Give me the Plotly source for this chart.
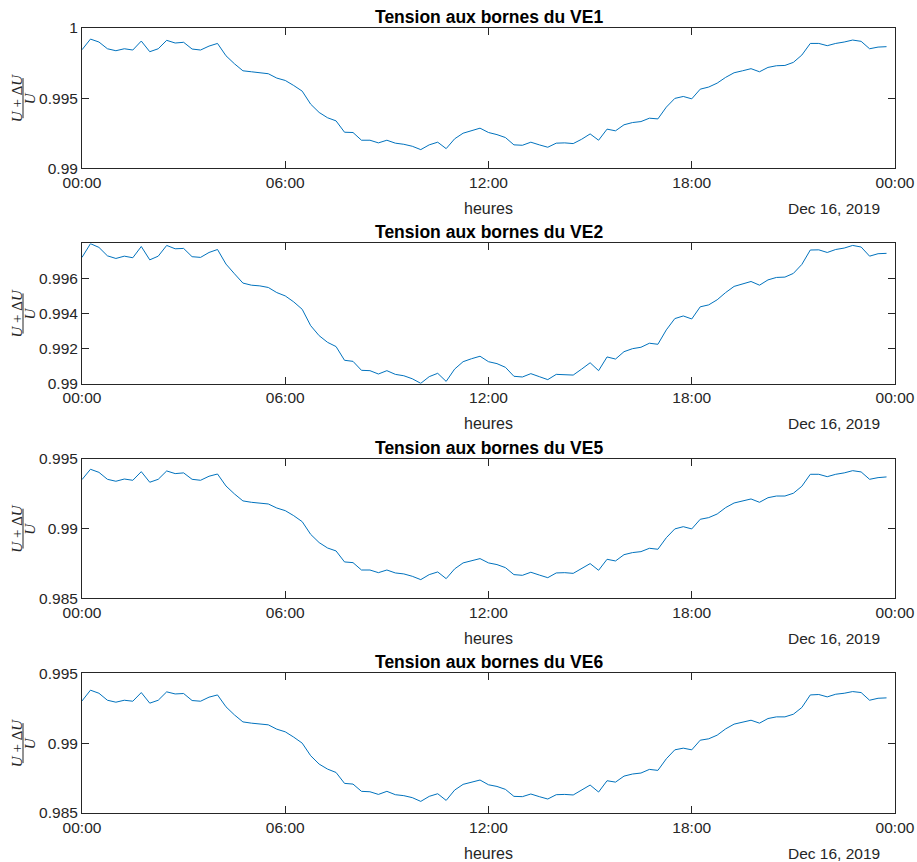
import pandas as pd
import plotly.graph_objects as go
from plotly.subplots import make_subplots

# 15-minute samples over Dec 16, 2019
heures = pd.date_range("2019-12-16 00:00", periods=96, freq="15min")

ve1 = [
    0.99845, 0.99921, 0.99900, 0.99852, 0.99838, 0.99852, 0.99843, 0.99907,
    0.99831, 0.99852, 0.99912, 0.99893, 0.99898, 0.99850, 0.99843, 0.99871,
    0.99890, 0.99802, 0.99745, 0.99695, 0.99688, 0.99683, 0.99674, 0.99643,
    0.99626, 0.99590, 0.99550, 0.99457, 0.99398, 0.99360, 0.99338, 0.99257,
    0.99255, 0.99200, 0.99200, 0.99181, 0.99200, 0.99179, 0.99171, 0.99157,
    0.99133, 0.99167, 0.99186, 0.99140, 0.99210, 0.99250, 0.99269, 0.99286,
    0.99255, 0.99240, 0.99219, 0.99167, 0.99164, 0.99186, 0.99167, 0.99150,
    0.99179, 0.99181, 0.99176, 0.99207, 0.99245, 0.99200, 0.99279, 0.99267,
    0.99310, 0.99326, 0.99333, 0.99357, 0.99352, 0.99436, 0.99498, 0.99512,
    0.99495, 0.99564, 0.99579, 0.99607, 0.99648, 0.99681, 0.99695, 0.99710,
    0.99688, 0.99719, 0.99731, 0.99733, 0.99755, 0.99807, 0.99890, 0.99890,
    0.99874, 0.99890, 0.99900, 0.99914, 0.99905, 0.99852, 0.99864, 0.99867,
]

ve2 = [
    0.99718, 0.99796, 0.99775, 0.99727, 0.99712, 0.99725, 0.99716, 0.99780,
    0.99704, 0.99725, 0.99786, 0.99767, 0.99769, 0.99722, 0.99718, 0.99746,
    0.99763, 0.99680, 0.99625, 0.99572, 0.99560, 0.99556, 0.99547, 0.99518,
    0.99499, 0.99465, 0.99423, 0.99330, 0.99273, 0.99235, 0.99211, 0.99133,
    0.99127, 0.99076, 0.99074, 0.99055, 0.99074, 0.99053, 0.99045, 0.99028,
    0.99002, 0.99040, 0.99059, 0.99013, 0.99083, 0.99125, 0.99142, 0.99156,
    0.99125, 0.99114, 0.99093, 0.99042, 0.99038, 0.99057, 0.99040, 0.99023,
    0.99053, 0.99053, 0.99049, 0.99083, 0.99119, 0.99074, 0.99152, 0.99140,
    0.99182, 0.99199, 0.99207, 0.99230, 0.99224, 0.99306, 0.99370, 0.99385,
    0.99368, 0.99437, 0.99448, 0.99477, 0.99518, 0.99553, 0.99566, 0.99581,
    0.99560, 0.99590, 0.99604, 0.99606, 0.99627, 0.99678, 0.99760, 0.99761,
    0.99746, 0.99763, 0.99771, 0.99786, 0.99777, 0.99725, 0.99739, 0.99741,
]

ve5 = [
    0.99352, 0.99426, 0.99404, 0.99354, 0.99340, 0.99356, 0.99347, 0.99409,
    0.99333, 0.99354, 0.99414, 0.99395, 0.99400, 0.99354, 0.99347, 0.99376,
    0.99392, 0.99306, 0.99249, 0.99199, 0.99189, 0.99184, 0.99177, 0.99148,
    0.99129, 0.99093, 0.99050, 0.98959, 0.98900, 0.98861, 0.98840, 0.98761,
    0.98756, 0.98703, 0.98703, 0.98684, 0.98703, 0.98682, 0.98675, 0.98658,
    0.98634, 0.98670, 0.98689, 0.98641, 0.98711, 0.98754, 0.98770, 0.98785,
    0.98754, 0.98742, 0.98720, 0.98670, 0.98665, 0.98687, 0.98667, 0.98648,
    0.98682, 0.98684, 0.98679, 0.98713, 0.98749, 0.98701, 0.98780, 0.98768,
    0.98813, 0.98828, 0.98835, 0.98859, 0.98852, 0.98935, 0.98998, 0.99014,
    0.98998, 0.99067, 0.99079, 0.99105, 0.99151, 0.99184, 0.99199, 0.99213,
    0.99189, 0.99222, 0.99234, 0.99234, 0.99254, 0.99304, 0.99390, 0.99390,
    0.99373, 0.99390, 0.99400, 0.99416, 0.99407, 0.99354, 0.99366, 0.99371,
]

ve6 = [
    0.99302, 0.99379, 0.99357, 0.99307, 0.99293, 0.99307, 0.99300, 0.99362,
    0.99286, 0.99307, 0.99367, 0.99352, 0.99355, 0.99305, 0.99300, 0.99329,
    0.99345, 0.99260, 0.99202, 0.99152, 0.99143, 0.99138, 0.99131, 0.99100,
    0.99081, 0.99043, 0.99000, 0.98910, 0.98850, 0.98814, 0.98790, 0.98712,
    0.98707, 0.98655, 0.98652, 0.98633, 0.98655, 0.98631, 0.98624, 0.98610,
    0.98583, 0.98619, 0.98638, 0.98590, 0.98664, 0.98705, 0.98721, 0.98736,
    0.98702, 0.98690, 0.98669, 0.98619, 0.98617, 0.98636, 0.98617, 0.98600,
    0.98631, 0.98633, 0.98629, 0.98664, 0.98700, 0.98650, 0.98731, 0.98721,
    0.98764, 0.98779, 0.98786, 0.98812, 0.98805, 0.98888, 0.98952, 0.98964,
    0.98952, 0.99021, 0.99031, 0.99057, 0.99102, 0.99136, 0.99152, 0.99164,
    0.99143, 0.99176, 0.99188, 0.99188, 0.99207, 0.99255, 0.99345, 0.99348,
    0.99331, 0.99350, 0.99357, 0.99369, 0.99362, 0.99307, 0.99321, 0.99324,
]

titres = ["Tension aux bornes du VE1", "Tension aux bornes du VE2",
          "Tension aux bornes du VE5", "Tension aux bornes du VE6"]
series = [ve1, ve2, ve5, ve6]
y_ranges = [[0.99, 1.0], [0.99, 0.99798], [0.985, 0.995], [0.985, 0.995]]
y_ticks = [
    ([0.99, 0.995, 1.0], ["0.99", "0.995", "1"]),
    ([0.99, 0.992, 0.994, 0.996], ["0.99", "0.992", "0.994", "0.996"]),
    ([0.985, 0.99, 0.995], ["0.985", "0.99", "0.995"]),
    ([0.985, 0.99, 0.995], ["0.985", "0.99", "0.995"]),
]
x_ticks = pd.date_range("2019-12-16 00:00", periods=5, freq="6h")
x_ticktext = ["00:00", "06:00", "12:00", "18:00", "00:00"]
domains = [[0.8213, 1.0], [0.5469, 0.7257], [0.2735, 0.4510], [0.0, 0.1780]]

AXIS_COLOR = "#262626"
LINE_COLOR = "#0072BD"
SANS = "Liberation Sans, Arial, sans-serif"
SERIF = "Liberation Serif, Times New Roman, serif"

fig = make_subplots(rows=4, cols=1)

for k, (vals, titre) in enumerate(zip(series, titres), start=1):
    fig.add_trace(
        go.Scatter(
            x=heures,
            y=vals,
            mode="lines",
            line={"color": LINE_COLOR, "width": 1},
            showlegend=False,
        ),
        row=k,
        col=1,
    )
    fig.update_xaxes(
        range=[x_ticks[0], x_ticks[-1]],
        tickvals=list(x_ticks),
        ticktext=x_ticktext,
        ticks="inside",
        ticklen=7,
        tickcolor=AXIS_COLOR,
        showline=True,
        linecolor=AXIS_COLOR,
        linewidth=1,
        mirror="ticks",
        showgrid=False,
        zeroline=False,
        tickfont={"family": SANS, "size": 15.5, "color": AXIS_COLOR},
        row=k,
        col=1,
    )
    tv, tt = y_ticks[k - 1]
    fig.update_yaxes(
        range=y_ranges[k - 1],
        domain=domains[k - 1],
        tickvals=tv,
        ticktext=tt,
        ticks="inside",
        ticklen=7,
        tickcolor=AXIS_COLOR,
        showline=True,
        linecolor=AXIS_COLOR,
        linewidth=1,
        mirror="ticks",
        showgrid=False,
        zeroline=False,
        tickfont={"family": SANS, "size": 15.5, "color": AXIS_COLOR},
        row=k,
        col=1,
    )

    xd = "x domain" if k == 1 else f"x{k} domain"
    yd = "y domain" if k == 1 else f"y{k} domain"

    # subplot title
    fig.add_annotation(
        text=f"<b>{titre}</b>", x=0.5, y=1, xref=xd, yref=yd,
        xanchor="center", yanchor="middle", yshift=11, showarrow=False,
        font={"family": SANS, "size": 17.5, "color": "black"},
    )
    # x label and date
    fig.add_annotation(
        text="heures", x=0.5, y=0, xref=xd, yref=yd,
        xanchor="center", yanchor="middle", yshift=-40, showarrow=False,
        font={"family": SANS, "size": 16, "color": AXIS_COLOR},
    )
    fig.add_annotation(
        text="Dec 16, 2019", x=1, y=0, xref=xd, yref=yd,
        xanchor="center", yanchor="middle", xshift=-61, yshift=-40, showarrow=False,
        font={"family": SANS, "size": 15.5, "color": AXIS_COLOR},
    )
    # y label as a fraction (U+ΔU)/U
    fig.add_annotation(
        text="<i>U</i> + Δ<i>U</i>", x=0, y=0.5, xref=xd, yref=yd,
        xanchor="center", yanchor="middle", xshift=-65, textangle=-90,
        showarrow=False, font={"family": SERIF, "size": 15, "color": AXIS_COLOR},
    )
    fig.add_annotation(
        text="<i>U</i>", x=0, y=0.5, xref=xd, yref=yd,
        xanchor="center", yanchor="middle", xshift=-52, textangle=-90,
        showarrow=False, font={"family": SERIF, "size": 15, "color": AXIS_COLOR},
    )
    d0, d1 = domains[k - 1]
    fig.add_shape(
        type="line", xref="paper", yref="paper",
        x0=-59 / 813, x1=-59 / 813,
        y0=d0 + (d1 - d0) * 0.357, y1=d0 + (d1 - d0) * 0.643,
        line={"color": AXIS_COLOR, "width": 1},
    )

fig.update_layout(
    width=917,
    height=862,
    template="plotly_white",
    plot_bgcolor="white",
    paper_bgcolor="white",
    margin={"l": 82, "r": 22, "t": 28, "b": 49, "autoexpand": False},
    font={"family": SANS, "color": AXIS_COLOR},
)

# drop the default 8px page margin so the figure fills the window exactly
fig.write_html(
    "out.html",
    config={"displayModeBar": False},
    post_script="document.body.style.margin='0';document.body.style.overflow='hidden';",
)
